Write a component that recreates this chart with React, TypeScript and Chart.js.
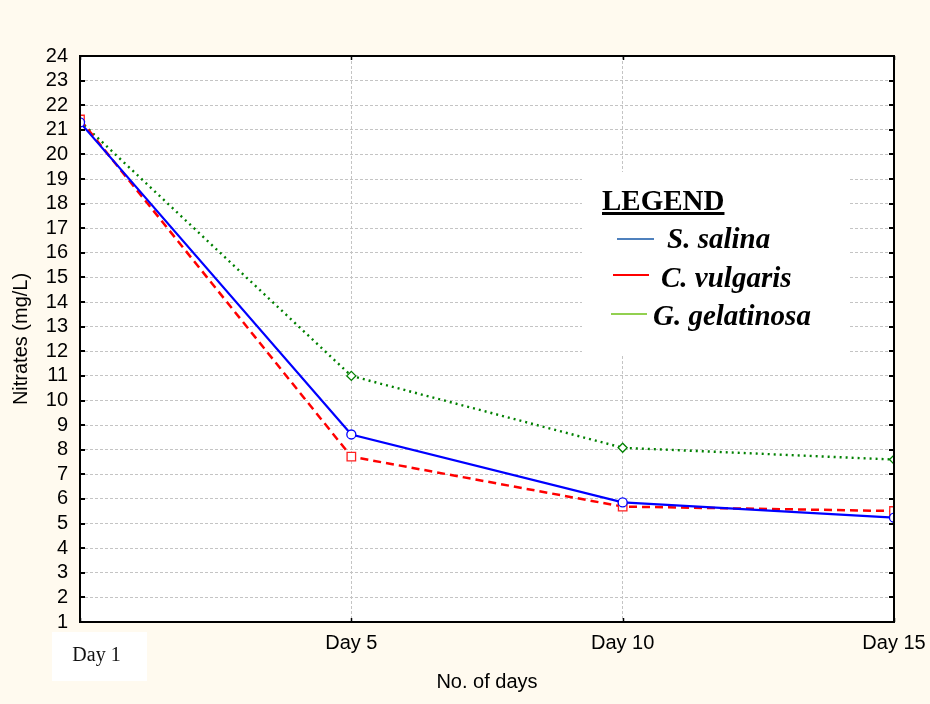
import React, { useEffect, useRef } from 'react';
import { Chart, registerables } from 'chart.js';

Chart.register(...registerables);

const categories = ['Day 1', 'Day 5', 'Day 10', 'Day 15'];
const sSalina = [21.3, 8.62, 5.86, 5.24];
const cVulgaris = [21.42, 7.72, 5.69, 5.51];
const gGelatinosa = [21.35, 11.0, 8.08, 7.6];
const yMin = 1;
const yMax = 24;

const seriesNames = ['S. salina', 'C. vulgaris', 'G. gelatinosa'];
const legendSwatchColors = ['#4f81bd', '#ff0000', '#92d050'];

const SANS = '"Liberation Sans", Arial, sans-serif';
const SERIF = '"Liberation Serif", "Times New Roman", serif';

const framePlugin = {
  id: 'frame',
  beforeDraw(chart: any) {
    const { ctx, width, height, chartArea } = chart;
    ctx.save();
    ctx.fillStyle = '#fffaef';
    ctx.fillRect(0, 0, width, height);
    ctx.fillStyle = '#ffffff';
    ctx.fillRect(chartArea.left, chartArea.top, chartArea.right - chartArea.left, chartArea.bottom - chartArea.top);
    ctx.restore();
  },
  beforeDatasetsDraw(chart: any) {
    const { ctx } = chart;
    ctx.save();
    // legend box
    ctx.fillStyle = '#ffffff';
    ctx.fillRect(582, 172, 266, 183);
    ctx.fillStyle = '#000000';
    ctx.textBaseline = 'alphabetic';
    ctx.textAlign = 'left';
    ctx.font = `bold 29px ${SERIF}`;
    ctx.fillText('LEGEND', 602, 210);
    const w = ctx.measureText('LEGEND').width;
    ctx.fillRect(602, 212, w, 3);
    ctx.font = `italic bold 29px ${SERIF}`;
    const rows = [
      { x1: 617, x2: 654, ly: 239, tx: 667, ty: 248 },
      { x1: 613, x2: 649, ly: 275, tx: 661, ty: 287 },
      { x1: 611, x2: 647, ly: 314, tx: 653, ty: 325 },
    ];
    rows.forEach((r, i) => {
      ctx.strokeStyle = legendSwatchColors[i];
      ctx.lineWidth = 2;
      ctx.setLineDash([]);
      ctx.beginPath();
      ctx.moveTo(r.x1, r.ly);
      ctx.lineTo(r.x2, r.ly);
      ctx.stroke();
      ctx.fillStyle = '#000000';
      ctx.fillText(seriesNames[i], r.tx, r.ty);
    });
    ctx.restore();
  },
  afterDraw(chart: any) {
    const { ctx, chartArea, scales } = chart;
    const { left, right, top, bottom } = chartArea;
    ctx.save();
    ctx.strokeStyle = '#000000';
    ctx.lineWidth = 2;
    ctx.setLineDash([]);
    ctx.strokeRect(left, top, right - left, bottom - top);
    // inward tick marks
    ctx.beginPath();
    const ys = scales.y;
    ys.ticks.forEach((t: any) => {
      const py = Math.round(ys.getPixelForValue(t.value));
      ctx.moveTo(left, py);
      ctx.lineTo(left + 5, py);
      ctx.moveTo(right, py);
      ctx.lineTo(right - 5, py);
    });
    ctx.stroke();
    ctx.lineWidth = 1.5;
    ctx.beginPath();
    const xs = scales.x;
    categories.forEach((_, i) => {
      const px = Math.round(xs.getPixelForValue(i)) + 0.5;
      ctx.moveTo(px, top);
      ctx.lineTo(px, top + 4);
      ctx.moveTo(px, bottom);
      ctx.lineTo(px, bottom - 4);
    });
    ctx.stroke();
    // first category label box
    const x0 = xs.getPixelForValue(0);
    ctx.fillStyle = '#ffffff';
    ctx.fillRect(x0 - 28, 632, 95, 49);
    ctx.fillStyle = '#111111';
    ctx.font = `20px ${SERIF}`;
    ctx.textAlign = 'center';
    ctx.textBaseline = 'alphabetic';
    ctx.fillText(categories[0], x0 + 16.5, 661);
    ctx.restore();
  },
};

export default function App() {
  const ref = useRef<HTMLCanvasElement | null>(null);

  useEffect(() => {
    document.body.style.margin = '0';
    const canvas = ref.current;
    if (!canvas) return;
    const chart = new Chart(canvas, {
      type: 'line',
      data: {
        labels: categories,
        datasets: [
          {
            label: seriesNames[0],
            data: sSalina,
            borderColor: '#0000ff',
            borderWidth: 2.2,
            backgroundColor: '#ffffff',
            pointStyle: 'circle',
            pointRadius: 4.5,
            pointBorderWidth: 1.3,
            pointBorderColor: '#0000ff',
            pointBackgroundColor: '#ffffff',
            tension: 0,
            clip: 0,
          },
          {
            label: seriesNames[1],
            data: cVulgaris,
            borderColor: '#ff0000',
            borderWidth: 2.5,
            borderDash: [8, 5],
            backgroundColor: '#ffffff',
            pointStyle: 'rect',
            pointRadius: 6,
            pointBorderWidth: 1.3,
            pointBorderColor: '#ff2020',
            pointBackgroundColor: '#ffffff',
            tension: 0,
            clip: 0,
          },
          {
            label: seriesNames[2],
            data: gGelatinosa,
            borderColor: '#008000',
            borderWidth: 2.4,
            borderDash: [2, 4],
            backgroundColor: '#ffffff',
            pointStyle: 'rectRot',
            pointRadius: 4.5,
            pointBorderWidth: 1.3,
            pointBorderColor: '#008000',
            pointBackgroundColor: '#ffffff',
            tension: 0,
            clip: 0,
          },
        ],
      },
      options: {
        animation: false,
        responsive: false,
        devicePixelRatio: 1,
        layout: { padding: { left: 0, top: 56, right: 36, bottom: 0 } },
        plugins: {
          legend: { display: false },
          tooltip: { enabled: false },
          title: { display: false },
        },
        scales: {
          x: {
            type: 'category',
            offset: false,
            grid: { color: '#c4c4c4', lineWidth: 1, drawTicks: false },
            border: { display: false, dash: [3, 2] },
            ticks: {
              autoSkip: false,
              maxRotation: 0,
              padding: 9,
              color: '#000000',
              font: { family: SANS, size: 20 },
              callback: (_v: any, i: number) => (i === 0 ? '' : categories[i]),
            },
            title: {
              display: true,
              text: 'No. of days',
              color: '#000000',
              font: { family: SANS, size: 20 },
              padding: { top: 0, bottom: 10 },
            },
            afterFit: (s: any) => {
              s.height = 82;
              s.paddingLeft = 0;
              s.paddingRight = 0;
            },
          },
          y: {
            min: yMin,
            max: yMax,
            grid: { color: '#c4c4c4', lineWidth: 1, drawTicks: false },
            border: { display: false, dash: [3, 2] },
            ticks: {
              stepSize: 1,
              autoSkip: false,
              padding: 12,
              color: '#000000',
              font: { family: SANS, size: 20 },
            },
            title: {
              display: true,
              text: 'Nitrates (mg/L)',
              color: '#000000',
              font: { family: SANS, size: 20 },
              padding: { top: 9, bottom: 0 },
            },
            afterFit: (s: any) => {
              s.width = 80;
              s.paddingTop = 0;
              s.paddingBottom = 0;
            },
          },
        },
      } as any,
      plugins: [framePlugin],
    });
    return () => chart.destroy();
  }, []);

  return (
    <div style={{ position: 'fixed', left: 0, top: 0, width: 930, height: 704 }}>
      <canvas ref={ref} width={930} height={704} style={{ display: 'block', width: 930, height: 704 }} />
    </div>
  );
}
